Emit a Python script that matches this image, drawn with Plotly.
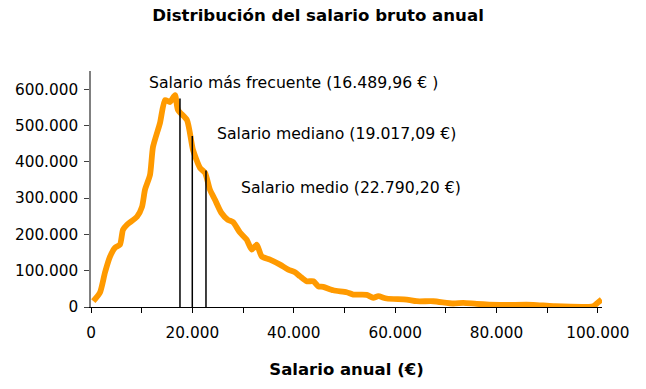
import plotly.graph_objects as go

# Curve (salary in €, number of people)
salario = [450, 1775, 2760, 3750, 4730, 5720, 6310, 7100, 9070, 10060, 10650,
           11640, 12230, 13610, 14600, 15580, 16570, 17160, 18930, 20120, 21500,
           22490, 23470, 24460, 25700, 27000, 28000, 29390, 30710, 31700, 32680,
           33670, 35310, 37280, 38920, 40240, 41220, 42540, 43850, 44830, 45820,
           47790, 50430, 51740, 54380, 55680, 56670, 58320, 62270, 64240, 67520,
           71460, 73430, 76070, 80670, 87240, 91180, 99070, 100060, 100730]
personas = [16000, 39800, 94800, 138700, 163400, 171700, 212900, 226600, 248600,
            276000, 322800, 364000, 440900, 506800, 570000, 564500, 583700, 542500,
            515100, 432700, 383200, 369500, 322800, 295300, 259600, 240000, 234000,
            205000, 185400, 157900, 171700, 139500, 130500, 116700, 103000, 95600,
            84600, 70900, 70900, 57100, 55500, 46100, 40700, 34300, 33500, 25300,
            29700, 23400, 20600, 15900, 15900, 9600, 11500, 8800, 6000, 6000, 2200,
            2200, 13200, 20600]

# Reference lines (positions and tops as drawn in the picture)
ref_x = [17550, 19980, 22680]
ref_top = [574600, 471100, 375800]
ref_labels = ["Salario más frecuente (16.489,96 € )",
              "Salario mediano (19.017,09 €)",
              "Salario medio (22.790,20 €)"]
label_x = [11100, 24450, 29200]
label_y = [619500, 476600, 328300]

x_ticks = [0, 10000, 20000, 30000, 40000, 50000, 60000, 70000, 80000, 90000, 100000]
x_ticktext = ["0", "", "20.000", "", "40.000", "", "60.000", "", "80.000", "", "100.000"]
y_ticks = [0, 100000, 200000, 300000, 400000, 500000, 600000]
y_ticktext = ["0", "100.000", "200.000", "300.000", "400.000", "500.000", "600.000"]

FONT = "DejaVu Sans"

fig = go.Figure()
fig.add_trace(go.Scatter(x=salario, y=personas, mode="lines",
                         line=dict(color="#FF9A00", width=5.8, shape="spline", smoothing=0.6),
                         showlegend=False, hoverinfo="skip"))

for xv, top in zip(ref_x, ref_top):
    fig.add_trace(go.Scatter(x=[xv, xv], y=[0, top], mode="lines",
                             line=dict(color="black", width=1.5),
                             showlegend=False, hoverinfo="skip"))

for txt, xv, yv in zip(ref_labels, label_x, label_y):
    fig.add_annotation(x=xv, y=yv, text=txt, showarrow=False, xanchor="left",
                       yanchor="middle", font=dict(family=FONT, size=15.7, color="black"))

fig.update_layout(
    width=646, height=389,
    margin=dict(l=91, r=44, t=71, b=81.5, autoexpand=False),
    paper_bgcolor="white", plot_bgcolor="white",
    title=dict(text="<b>Distribución del salario bruto anual</b>", x=318 / 646, xref="container",
               y=1 - 15 / 389, yref="container", yanchor="middle", xanchor="center",
               font=dict(family=FONT, size=16.6, color="black")),
    xaxis=dict(range=[0, 100800], tickvals=x_ticks, ticktext=x_ticktext,
               ticks="outside", ticklen=5, tickcolor="black", showline=True,
               linecolor="black", linewidth=1, showgrid=False, zeroline=False,
               tickfont=dict(family=FONT, size=15.3, color="black"),
               ticklabelstandoff=7,
               title=dict(text="<b>Salario anual (€)</b>", standoff=22,
                          font=dict(family=FONT, size=16.5, color="black")),
               automargin=False),
    yaxis=dict(range=[0, 650000], tickvals=y_ticks, ticktext=y_ticktext,
               ticks="outside", ticklen=5, tickcolor="#404040", showline=True,
               linecolor="#808080", linewidth=1.5, showgrid=False, zeroline=False,
               tickfont=dict(family=FONT, size=15.3, color="black"),
               ticklabelstandoff=3,
               automargin=False),
)

fig.write_html("out.html", config={"displayModeBar": False},
               post_script="document.body.style.margin='0';")
